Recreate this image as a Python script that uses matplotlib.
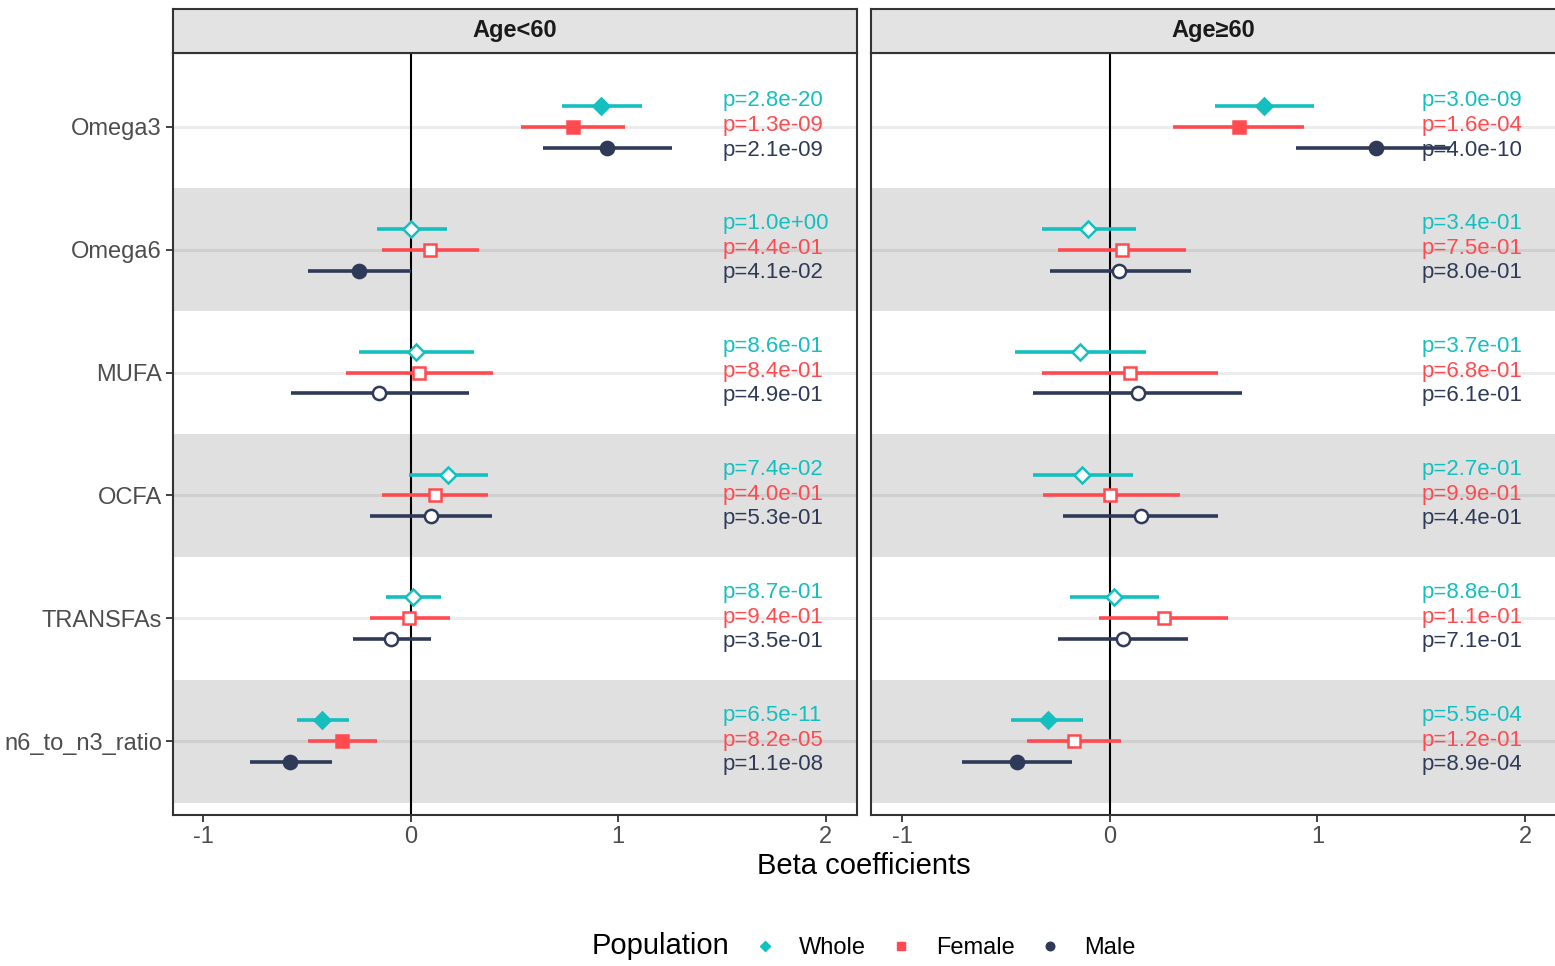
import matplotlib
matplotlib.use("Agg")
import matplotlib.pyplot as plt
from matplotlib.lines import Line2D

plt.rcParams['font.family'] = ['Liberation Sans', 'DejaVu Sans']

categories = ["Omega3", "Omega6", "MUFA", "OCFA", "TRANSFAs", "n6_to_n3_ratio"]
populations = ["Whole", "Female", "Male"]
panels = ["Age<60", "Age\u226560"]

# rows: Whole, Female, Male ; columns follow categories
young_beta = [[0.916, 0.000, 0.024, 0.178, 0.010, -0.429],
              [0.781, 0.092, 0.039, 0.116, -0.010, -0.333],
              [0.945, -0.250, -0.154, 0.096, -0.096, -0.583]]
young_lo = [[0.728, -0.164, -0.250, -0.010, -0.120, -0.549],
            [0.530, -0.140, -0.313, -0.140, -0.198, -0.496],
            [0.636, -0.496, -0.578, -0.198, -0.280, -0.776]]
young_hi = [[1.113, 0.173, 0.304, 0.371, 0.145, -0.299],
            [1.031, 0.328, 0.395, 0.371, 0.188, -0.164],
            [1.258, 0.000, 0.280, 0.390, 0.100, -0.381]]
young_p = [[2.8e-20, 1.0e+00, 8.6e-01, 7.4e-02, 8.7e-01, 6.5e-11],
           [1.3e-09, 4.4e-01, 8.4e-01, 4.0e-01, 9.4e-01, 8.2e-05],
           [2.1e-09, 4.1e-02, 4.9e-01, 5.3e-01, 3.5e-01, 1.1e-08]]

old_beta = [[0.742, -0.106, -0.145, -0.135, 0.019, -0.299],
            [0.622, 0.058, 0.096, 0.000, 0.260, -0.173],
            [1.282, 0.043, 0.135, 0.149, 0.063, -0.448]]
old_lo = [[0.506, -0.328, -0.458, -0.371, -0.193, -0.477],
          [0.304, -0.250, -0.328, -0.323, -0.053, -0.400],
          [0.896, -0.289, -0.371, -0.226, -0.250, -0.713]]
old_hi = [[0.983, 0.125, 0.173, 0.111, 0.236, -0.130],
          [0.935, 0.366, 0.520, 0.337, 0.569, 0.053],
          [1.639, 0.390, 0.636, 0.520, 0.376, -0.183]]
old_p = [[3.0e-09, 3.4e-01, 3.7e-01, 2.7e-01, 8.8e-01, 5.5e-04],
         [1.6e-04, 7.5e-01, 6.8e-01, 9.9e-01, 1.1e-01, 1.2e-01],
         [4.0e-10, 8.0e-01, 6.1e-01, 4.4e-01, 7.1e-01, 8.9e-04]]

colors = ["#13BFBF", "#FF4B50", "#2E3A58"]
markers = ["D", "s", "o"]
msizes = [8.5, 8.5, 9.5]
offsets = [0.17, 0.0, -0.17]
text_offsets = [0.21, 0.01, -0.19]
shaded = ["Omega6", "OCFA", "n6_to_n3_ratio"]

W, H = 1555, 966
fig = plt.figure(figsize=(W / 100, H / 100), dpi=100)


def box(x0, y0, x1, y1):
    # pixel box (top-left origin) -> figure fraction
    return [x0 / W, 1 - y1 / H, (x1 - x0) / W, (y1 - y0) / H]


panel_px = [(173, 857), (871, 1557)]
data = [(young_beta, young_lo, young_hi, young_p),
        (old_beta, old_lo, old_hi, old_p)]
ypos = [len(categories) - i for i in range(len(categories))]

for k, (x0, x1) in enumerate(panel_px):
    ax = fig.add_axes(box(x0, 53, x1, 815))
    beta, lo, hi, pv = data[k]
    xmin = -1.145 if k == 0 else -1.15
    ax.set_xlim(xmin, xmin + (x1 - x0) / 207.6)
    ax.set_ylim(0.4, len(categories) + 0.6)

    for c, y in zip(categories, ypos):
        if c in shaded:
            ax.axhspan(y - 0.5, y + 0.5, color="#E0E0E0", lw=0, zorder=0)
        ax.axhline(y, color="black", alpha=0.075, lw=2.2, zorder=1)
    ax.axvline(0, color="black", lw=1.5, zorder=2)

    for j in range(len(populations)):
        for i, y in enumerate(ypos):
            yy = y + offsets[j]
            ax.plot([lo[j][i], hi[j][i]], [yy, yy], color=colors[j],
                    lw=2.6, solid_capstyle="butt", zorder=4)
            filled = pv[j][i] < 0.05
            ax.plot(beta[j][i], yy, marker=markers[j], ms=msizes[j],
                    color=colors[j], mfc=colors[j] if filled else "white",
                    mec=colors[j], mew=1.8, zorder=5)
            ax.text(1.5, y + text_offsets[j], f"p={pv[j][i]:.1e}",
                    color=colors[j], fontsize=16, ha="left", va="center",
                    zorder=3)

    ax.set_xticks([-1, 0, 1, 2])
    ax.set_xticklabels(["-1", "0", "1", "2"])
    ax.set_yticks(ypos)
    if k == 0:
        ax.set_yticklabels(categories)
    else:
        ax.set_yticklabels([])
    ax.tick_params(axis="both", colors="#333333", labelcolor="#4D4D4D",
                   labelsize=17, width=1.3, length=5, pad=3)
    if k == 1:
        ax.tick_params(axis="y", length=0)
    for s in ax.spines.values():
        s.set_color("#333333")
        s.set_linewidth(1.5)

    strip = fig.add_axes(box(x0, 9, x1, 53))
    strip.set_facecolor("#E3E3E3")
    strip.set_xticks([])
    strip.set_yticks([])
    for s in strip.spines.values():
        s.set_color("#333333")
        s.set_linewidth(1.5)
    strip.text((857 - 173) / 2 / (x1 - x0), 0.5, panels[k], transform=strip.transAxes,
               ha="center", va="center", fontsize=17, fontweight="bold",
               color="#1A1A1A")

fig.text(864 / W, 1 - 866 / H, "Beta coefficients", ha="center", va="center",
         fontsize=21, color="black")

fig.text(592 / W, 1 - 946 / H, "Population", ha="left", va="center",
         fontsize=21, color="black")
handles = [Line2D([], [], ls="none", marker=m, color=c, ms=s * 0.65)
           for m, c, s in zip(markers, colors, msizes)]
fig.legend(handles, populations, loc="center left",
           bbox_to_anchor=(753 / W, 1 - 948 / H), ncol=3, frameon=False,
           fontsize=17, handlelength=1.0, handletextpad=0.95,
           columnspacing=1.0, borderaxespad=0, borderpad=0)

fig.savefig("out.png", dpi=100)
